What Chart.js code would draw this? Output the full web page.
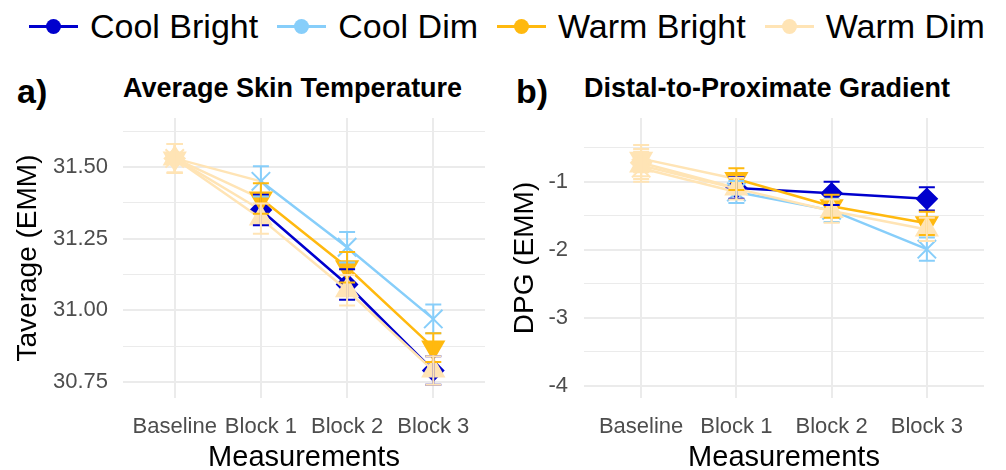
<!DOCTYPE html>
<html>
<head>
<meta charset="utf-8">
<script src="https://cdn.jsdelivr.net/npm/chart.js@4.4.1/dist/chart.umd.min.js"></script>
<style>
body { margin: 0; width: 1006px; height: 470px; overflow: hidden; background: #fff; position: relative;
       font-family: "Liberation Sans", Arial, sans-serif; color: #000; }
#legend { position: absolute; left: 29px; top: 6px; height: 40px; display: flex; align-items: center;
          white-space: nowrap; font-size: 34px; }
.item { display: flex; align-items: center; margin-right: 19px; }
.key { position: relative; width: 49px; height: 3px; margin-right: 12px; }
.key i { position: absolute; left: 17px; top: -6px; width: 15px; height: 15px; border-radius: 50%; }
.tag { position: absolute; font-weight: bold; font-size: 34px; line-height: 34px; }
.ttl { position: absolute; font-weight: bold; font-size: 27px; line-height: 27px; white-space: nowrap; }
.box { position: absolute; top: 60px; height: 410px; }
</style>
</head>
<body>
<div id="legend"></div>
<div class="tag" style="left:17px;top:74px">a)</div>
<div class="ttl" style="left:123px;top:75px">Average Skin Temperature</div>
<div class="tag" style="left:516px;top:74px">b)</div>
<div class="ttl" style="left:584px;top:75px">Distal-to-Proximate Gradient</div>
<div class="box" style="left:0;width:500px"><canvas id="chartA" width="500" height="410"></canvas></div>
<div class="box" style="left:500px;width:506px"><canvas id="chartB" width="506" height="410"></canvas></div>

<script>
// categories and groups
const measurements = ['Baseline', 'Block 1', 'Block 2', 'Block 3'];
const groups = ['Cool Bright', 'Cool Dim', 'Warm Bright', 'Warm Dim'];
const groupColors = ['#0000CD', '#87CEFA', '#FFB90F', '#FFE4B5'];
const baselineColor = '#FFE4B5'; // baseline marks all come out in the Warm Dim colour

// a) Taverage (EMM)
const tavgCoolBright = [31.53, 31.35, 31.09, 30.79];
const tavgCoolDim = [31.53, 31.45, 31.22, 30.97];
const tavgWarmBright = [31.53, 31.39, 31.15, 30.87];
const tavgWarmDim = [31.53, 31.32, 31.07, 30.79];
const tavgSE = [0.05, 0.053, 0.053, 0.05];
const tavgTicks = [30.75, 31.00, 31.25, 31.50];
const tavgMinor = [30.875, 31.125, 31.375, 31.625];

// b) DPG (EMM)
const dpgCoolBright = [-0.72, -1.09, -1.17, -1.25];
const dpgCoolDim = [-0.80, -1.15, -1.42, -1.99];
const dpgWarmBright = [-0.66, -0.96, -1.36, -1.61];
const dpgWarmDim = [-0.76, -1.10, -1.43, -1.70];
const dpgSE = [0.2, 0.16, 0.17, 0.17];
const dpgTicks = [-4, -3, -2, -1];
const dpgMinor = [-3.5, -2.5, -1.5, -0.5];

const FONT = '"Liberation Sans", Arial, sans-serif';
const GRID = '#EBEBEB';

// legend (shared by both panels)
const legendEl = document.getElementById('legend');
groups.forEach((g, i) => {
    const item = document.createElement('div');
    item.className = 'item';
    item.innerHTML = `<span class="key" style="background:${groupColors[i]}"><i style="background:${groupColors[i]}"></i></span><span>${g}</span>`;
    legendEl.appendChild(item);
});

// point shapes like the ggplot version
const shapes = [
    { pointStyle: 'rectRot', pointRadius: 10, pointRotation: 0 },
    { pointStyle: 'crossRot', pointRadius: 13, pointRotation: 0 },
    { pointStyle: 'triangle', pointRadius: 12, pointRotation: 180 },
    { pointStyle: 'triangle', pointRadius: 12, pointRotation: 0 }
];

function colorAt(i, j) {
    return j === 0 ? baselineColor : groupColors[i];
}

// draws mean ± SE bars from the data
function errorBarPlugin(se) {
    return {
        id: 'errorBars',
        afterDatasetsDraw(chart) {
            const { ctx, scales: { x, y } } = chart;
            ctx.save();
            ctx.lineWidth = 2;
            chart.data.datasets.forEach((ds, i) => {
                ds.data.forEach((p, j) => {
                    const px = x.getPixelForValue(p.x);
                    const top = y.getPixelForValue(p.y + se[j]);
                    const bot = y.getPixelForValue(p.y - se[j]);
                    ctx.strokeStyle = colorAt(i, j);
                    ctx.beginPath();
                    ctx.moveTo(px, top); ctx.lineTo(px, bot);
                    ctx.moveTo(px - 8, top); ctx.lineTo(px + 8, top);
                    ctx.moveTo(px - 8, bot); ctx.lineTo(px + 8, bot);
                    ctx.stroke();
                });
            });
            ctx.restore();
        }
    };
}

function isMajor(v, majors) {
    return majors.some(m => Math.abs(m - v) < 1e-9);
}

function makePanel(id, series, se, yMin, yMax, majors, minors, yTitle, fmt, lay) {
    const datasets = series.map((vals, i) => ({
        label: groups[i],
        data: vals.map((v, j) => ({ x: j + 1, y: v })),
        borderColor: groupColors[i],
        backgroundColor: groupColors[i],
        borderWidth: 2.5,
        pointBorderWidth: 2,
        pointBackgroundColor: vals.map((v, j) => colorAt(i, j)),
        pointBorderColor: vals.map((v, j) => colorAt(i, j)),
        segment: { borderColor: c => c.p0DataIndex === 0 ? baselineColor : undefined },
        tension: 0,
        order: 3 - i,
        ...shapes[i]
    }));
    const ctx = document.getElementById(id).getContext('2d');
    return new Chart(ctx, {
        type: 'line',
        data: { datasets },
        options: {
            responsive: false,
            animation: false,
            devicePixelRatio: 1,
            layout: { padding: { left: 10, right: lay.right, top: 58, bottom: 0 } },
            plugins: { legend: { display: false }, tooltip: { enabled: false } },
            scales: {
                x: {
                    type: 'linear',
                    min: 0.4,
                    max: 4.6,
                    afterBuildTicks: s => { s.ticks = [1, 2, 3, 4].map(v => ({ value: v })); },
                    afterFit: s => { s.height = 72; },
                    grid: { color: GRID, lineWidth: 2, drawTicks: false },
                    border: { display: false },
                    ticks: {
                        autoSkip: false, maxRotation: 0, padding: 16, color: '#4D4D4D',
                        font: { family: FONT, size: 22 },
                        callback: v => measurements[v - 1]
                    },
                    title: {
                        display: true, text: 'Measurements', color: '#000',
                        font: { family: FONT, size: 29, lineHeight: 1 }, padding: { top: 0, bottom: -2 }
                    }
                },
                y: {
                    min: yMin,
                    max: yMax,
                    afterBuildTicks: s => {
                        s.ticks = majors.concat(minors).sort((a, b) => a - b).map(v => ({ value: v }));
                    },
                    afterFit: s => { s.width = lay.yWidth; },
                    grid: {
                        color: GRID, drawTicks: false,
                        lineWidth: c => isMajor(c.tick.value, majors) ? 2 : 1
                    },
                    border: { display: false },
                    ticks: {
                        autoSkip: false, padding: lay.tickPad, color: '#4D4D4D',
                        font: { family: FONT, size: 22 },
                        callback: v => isMajor(v, majors) ? fmt(v) : ''
                    },
                    title: {
                        display: true, text: yTitle, color: '#000',
                        font: { family: FONT, size: 28, lineHeight: 1 }, padding: { top: lay.titlePad, bottom: 0 }
                    }
                }
            }
        },
        plugins: [errorBarPlugin(se)]
    });
}

makePanel('chartA', [tavgCoolBright, tavgCoolDim, tavgWarmBright, tavgWarmDim], tavgSE,
    30.694, 31.671, tavgTicks, tavgMinor, 'Taverage (EMM)', v => v.toFixed(2),
    { right: 15, yWidth: 113, tickPad: 15, titlePad: 4 });

makePanel('chartB', [dpgCoolBright, dpgCoolDim, dpgWarmBright, dpgWarmDim], dpgSE,
    -4.176, -0.063, dpgTicks, dpgMinor, 'DPG (EMM)', v => String(v),
    { right: 22, yWidth: 74, tickPad: 16, titlePad: 1 });
</script>
</body>
</html>
